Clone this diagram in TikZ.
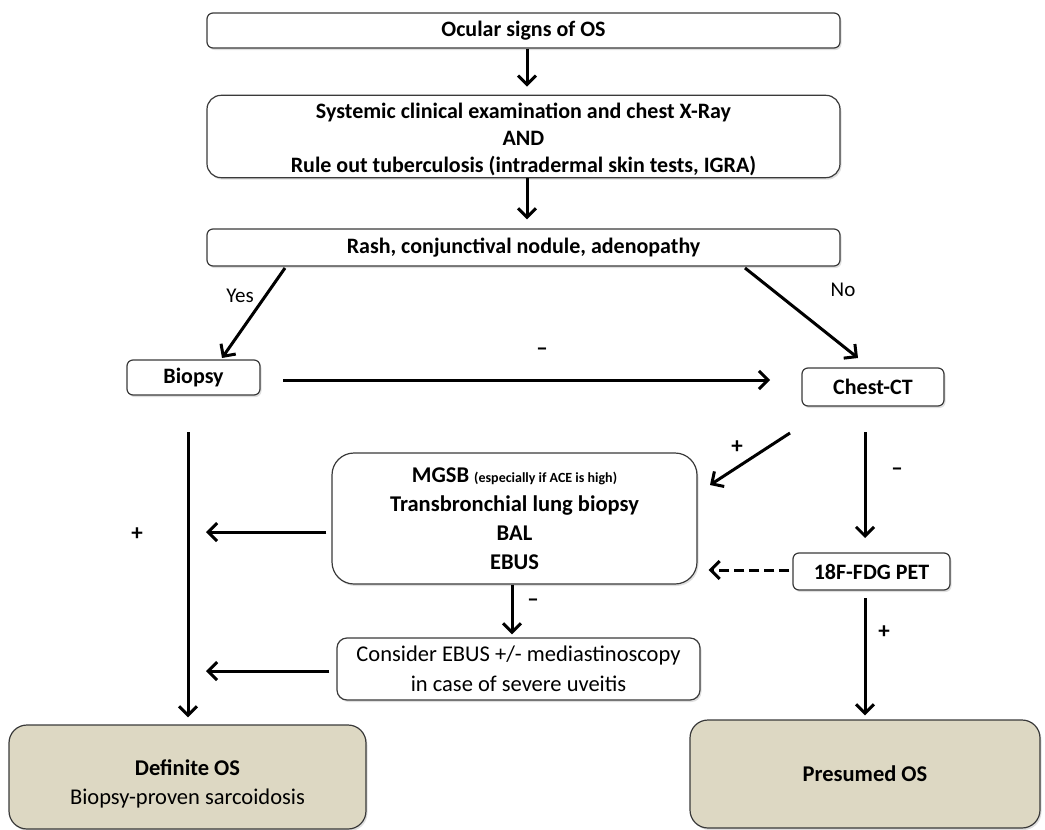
\documentclass[tikz,border=0pt]{standalone}
\usepackage{fontspec}
\setmainfont{Carlito}
\usetikzlibrary{arrows.meta,shadows}
\definecolor{beige}{HTML}{DDD8C3}
\definecolor{edge}{HTML}{3A3A3A}
\tikzset{
  box/.style={draw=edge, line width=1.2pt, rounded corners=6pt, fill=white, align=center, inner sep=2pt,
    drop shadow={opacity=0.25, shadow xshift=1.5pt, shadow yshift=-2pt}},
  endbox/.style={box, fill=beige, rounded corners=18pt},
  arr/.style={line width=3pt, -{Straight Barb[length=9pt,width=18pt,line width=3pt]}},
  lab/.style={font=\fontsize{21}{24}\selectfont, inner sep=0pt},
  blab/.style={font=\bfseries\fontsize{23}{24}\selectfont, inner sep=0pt},
  bt/.style={font=\bfseries\fontsize{22}{27}\selectfont},
}
\begin{document}
\begin{tikzpicture}[x=1pt,y=-1pt]
\useasboundingbox (0,0) rectangle (1045,830);
\node[box, bt, minimum width=633, minimum height=35] (ocular) at (523.5,30.5) {Ocular signs of OS};
\node[box, bt, minimum width=633, minimum height=81, rounded corners=14pt] (sys) at (523.5,136.5)
  {\rule{0pt}{21pt}Systemic clinical examination and chest X-Ray\\AND\\Rule out tuberculosis (intradermal skin tests, IGRA)};
\node[box, bt, minimum width=633, minimum height=37] (rash) at (523.5,247.5) {Rash, conjunctival nodule, adenopathy};
\node[box, bt, minimum width=133, minimum height=35] (biopsy) at (193.5,377.5) {Biopsy};
\node[box, bt, minimum width=142, minimum height=38] (ct) at (873,387) {Chest-CT};
\node[box, minimum width=365, minimum height=131, rounded corners=22pt, font=\bfseries\fontsize{22.5}{29}\selectfont] (mgsb) at (514.5,518.5)
  {MGSB {\fontsize{14}{16}\selectfont (especially if ACE is high)}\\Transbronchial lung biopsy\\BAL\\EBUS};
\node[box, bt, minimum width=157, minimum height=37] (pet) at (871.5,571.5) {18F-FDG PET};
\node[box, minimum width=363, minimum height=62, rounded corners=10pt, font=\fontsize{22.5}{30}\selectfont] (consider) at (518.5,669)
  {Consider EBUS +/- mediastinoscopy\\in case of severe uveitis};
\node[endbox, minimum width=357, minimum height=104, font=\fontsize{22.5}{29}\selectfont] (definite) at (187.5,777)
  {\rule{0pt}{29pt}\textbf{Definite OS}\\Biopsy-proven sarcoidosis};
\node[endbox, minimum width=350, minimum height=108, font=\bfseries\fontsize{22.5}{27}\selectfont] (presumed) at (865,774) {Presumed OS};

\coordinate (yesS) at (285,268);
\coordinate (yesE) at (222,358);
\coordinate (noS) at (745,268);
\coordinate (noE) at (858,358);
\coordinate (bcS) at (283,380);
\coordinate (bcE) at (770,380);
\coordinate (leftS) at (188,432);
\coordinate (plusS) at (790,433);
\coordinate (plusE) at (710,485);
\coordinate (ctS) at (865,432);
\coordinate (ctE) at (865,538);
\coordinate (m1E) at (206,532);
\coordinate (petS) at (865,598);
\coordinate (c1E) at (206,671);

\draw[arr] (ocular.south -| 527,0) -- ([yshift=8pt]sys.north -| 527,0);
\draw[arr] (sys.south -| 527,0) -- ([yshift=9pt]rash.north -| 527,0);
\draw[arr] (yesS) -- (yesE);
\draw[arr] (noS) -- (noE);
\draw[arr] (bcS) -- (bcE);
\draw[arr] (leftS) -- ([yshift=7pt]definite.north -| 188,0);
\draw[arr] (plusS) -- (plusE);
\draw[arr] (ctS) -- (ctE);
\draw[arr] ([xshift=-5pt]mgsb.west |- m1E) -- (m1E);
\draw[arr, dash pattern=on 10pt off 5pt] ([xshift=-3pt]pet.west |- 0,570) -- ([xshift=11pt]mgsb.east |- 0,570);
\draw[arr] (mgsb.south -| 512,0) -- ([yshift=3pt]consider.north -| 512,0);
\draw[arr] ([xshift=-7pt]consider.west |- c1E) -- (c1E);
\draw[arr] (petS) -- ([yshift=4pt]presumed.north -| 865,0);

\node[lab] (yes) at (240,296) {Yes};
\node[lab] (no) at (843,290) {No};
\node[blab] (m1) at (542,352) {--};
\node[blab] (p1) at (137,534) {+};
\node[blab] (p2) at (737,447) {+};
\node[blab] (m2) at (897,472) {--};
\node[blab] (m3) at (533,603) {--};
\node[blab] (p3) at (884,632) {+};
\end{tikzpicture}
\end{document}
